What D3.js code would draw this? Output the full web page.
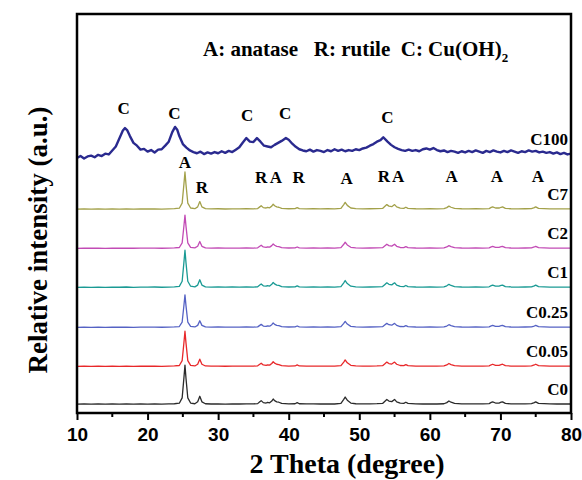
<!DOCTYPE html>
<html>
<head>
<meta charset="utf-8">
<script src="https://cdnjs.cloudflare.com/ajax/libs/d3/7.8.5/d3.min.js"></script>
<style>
  body { margin: 0; background: #fff; }
  svg { display: block; }
</style>
</head>
<body>
<div id="chart"></div>
<script>
// series names, bottom to top
let seriesNames = ["C0", "C0.05", "C0.25", "C1", "C2", "C7", "C100"];
let seriesColors = ["#2b2b2b", "#e8282a", "#5562c4", "#1a9a94", "#c24bb5", "#a3a14a", "#2a2a8f"];
// vertical offset of each trace (a.u.)
let seriesOffsets = [20, 115, 213, 313, 411, 509, 630];
// intensity scale of the TiO2 pattern for each doped sample
let seriesScales = [1.0, 0.9, 0.83, 0.95, 0.85, 0.95];

// TiO2 (anatase + rutile) pattern, [2theta, intensity]
let tio2Pattern = [
  [10, 2], [11, 2.6], [12, 2.2], [13, 2.8], [14, 2.1], [15, 2.7], [16, 2.3], [17, 2.9], [18, 2.2],
  [19, 2.8], [20, 2.4], [21, 2.9], [22, 2.3], [23, 2.8], [23.8, 3.2], [24.5, 4.5], [24.9, 18],
  [25.15, 68], [25.3, 100], [25.45, 66], [25.7, 18], [26.1, 5], [26.7, 3.2], [27.1, 8], [27.4, 22],
  [27.7, 8], [28.2, 3.2], [29, 2.6], [30, 3], [31, 2.4], [32, 2.9], [33, 2.5], [34, 3], [35, 2.8],
  [35.6, 3.5], [35.9, 8], [36.1, 11], [36.4, 6], [36.8, 5], [37.0, 6.5], [37.3, 5.5], [37.6, 10],
  [37.8, 15], [38.0, 11], [38.3, 8], [38.6, 7], [39.0, 4], [40, 3], [40.9, 3.2], [41.2, 6],
  [41.5, 3.2], [42.5, 2.7], [43.5, 3], [44.5, 2.6], [45.5, 3], [46.5, 2.6], [47.4, 4], [47.8, 14],
  [48.0, 20], [48.3, 12], [48.8, 5], [49.5, 3.2], [50.5, 2.7], [51.5, 3], [52.5, 3.3], [53.3, 4],
  [53.6, 9], [53.9, 14], [54.2, 10], [54.6, 8.5], [55.0, 14], [55.3, 8], [55.8, 4.5], [56.3, 4],
  [56.6, 7], [56.9, 4], [58, 3], [59, 2.6], [60, 3], [61, 2.6], [62, 3.2], [62.4, 6], [62.7, 10],
  [63.0, 7], [63.5, 4], [64.5, 3], [65.5, 2.7], [66.5, 3], [67.5, 2.8], [68.4, 3.5], [68.7, 6.5],
  [68.9, 8], [69.3, 5], [69.8, 5], [70.1, 7], [70.3, 8], [70.7, 4], [71.5, 3], [72.5, 2.7],
  [73.5, 3], [74.4, 3.5], [74.8, 6], [75.0, 8], [75.4, 4], [76.2, 3.5], [77, 2.8], [78, 2.5],
  [79, 2.8], [80, 2.5]
];

// Cu(OH)2 reference trace C100, [2theta, intensity]
let c100Pattern = [
  [10, 9], [10.5, 14], [11, 8], [11.5, 13], [12, 15], [12.5, 11], [13, 17], [13.5, 14], [14, 20],
  [14.5, 18], [15, 28], [15.5, 38], [16, 58], [16.5, 78], [16.8, 84], [17.1, 79], [17.5, 64],
  [18, 47], [18.5, 40], [19, 30], [19.5, 32], [20, 25], [20.5, 29], [21, 23], [21.5, 30], [22, 31],
  [22.5, 40], [23, 50], [23.5, 74], [23.9, 87], [24.2, 80], [24.5, 64], [25, 44], [25.5, 35],
  [26, 28], [26.5, 24], [27, 21], [27.5, 25], [28, 19], [28.5, 23], [29, 20], [29.5, 24], [30, 21],
  [30.5, 26], [31, 22], [31.5, 27], [32, 24], [32.5, 30], [33, 36], [33.5, 48], [34.0, 59],
  [34.5, 50], [35, 49], [35.5, 59], [36, 50], [36.5, 40], [37, 38], [37.5, 36], [38, 42], [38.5, 47],
  [39, 52], [39.6, 59], [40, 55], [40.5, 45], [41, 37], [41.5, 31], [42, 28], [42.5, 26], [43, 30],
  [43.5, 25], [44, 29], [44.5, 27], [45, 24], [45.5, 29], [46, 26], [46.5, 31], [47, 27], [47.5, 30],
  [48, 26], [48.5, 29], [49, 27], [49.5, 31], [50, 29], [50.5, 33], [51, 35], [51.5, 40], [52, 44],
  [52.5, 50], [53, 54], [53.4, 61], [54, 50], [54.5, 42], [55, 36], [55.5, 32], [56, 29], [56.5, 27],
  [57, 30], [57.5, 27], [58, 29], [58.5, 26], [59, 31], [59.5, 33], [60, 30], [60.5, 34], [61, 29],
  [61.5, 26], [62, 28], [62.5, 24], [63, 27], [63.5, 25], [64, 22], [64.5, 26], [65, 23], [65.5, 27],
  [66, 24], [66.5, 28], [67, 25], [67.5, 22], [68, 27], [68.5, 24], [69, 28], [69.5, 25], [70, 23],
  [70.5, 27], [71, 24], [71.5, 28], [72, 25], [72.5, 22], [73, 26], [73.5, 24], [74, 28], [74.5, 25],
  [75, 27], [75.5, 23], [76, 25], [76.5, 22], [77, 24], [77.5, 20], [78, 23], [78.5, 19], [79, 22],
  [79.5, 18], [80, 20]
];

// phase labels: letter, 2theta, height (a.u.)
let peakLetters = ["C", "C", "C", "C", "C", "A", "R", "R", "A", "R", "A", "R", "A", "A", "A", "A"];
let peakAngles = [16.6, 23.8, 34.1, 39.5, 54.0, 25.3, 27.7, 36.1, 38.2, 41.4, 48.2, 53.5, 55.5, 63.1, 69.5, 75.3];
let peakHeights = [749, 737, 732, 737, 727, 614, 551, 576, 576, 576, 574, 579, 579, 579, 579, 579];

let xTicks = [10, 20, 30, 40, 50, 60, 70, 80];
let xMinorTicks = [15, 25, 35, 45, 55, 65, 75];

let width = 582, height = 480;
let margin = {top: 14, right: 11, bottom: 67, left: 77};
let plotW = width - margin.left - margin.right;
let plotH = height - margin.top - margin.bottom;

let svg = d3.select("#chart")
    .append("svg")
    .attr("width", width)
    .attr("height", height);

let g = svg.append("g")
    .attr("transform", `translate(${margin.left}, ${margin.top})`);

let x = d3.scaleLinear().domain([10, 80]).range([0, plotW]);
let y = d3.scaleLinear().domain([0, 1000]).range([plotH, 0]);

let line = d3.line()
    .x(function(d) { return x(d[0]); })
    .y(function(d) { return y(d[1]); });

// build traces
let traces = seriesNames.map(function(name, i) {
  let pts;
  if (name === "C100") {
    pts = c100Pattern.map(function(p) { return [p[0], p[1] + seriesOffsets[i]]; });
  } else {
    pts = tio2Pattern.map(function(p) { return [p[0], p[1] * seriesScales[i] + seriesOffsets[i]]; });
  }
  return {name: name, color: seriesColors[i], points: pts};
});

g.selectAll("path.trace").data(traces)
    .enter()
    .append("path")
    .attr("class", "trace")
    .attr("fill", "none")
    .attr("stroke", function(d) { return d.color; })
    .attr("stroke-width", function(d) { return d.name === "C100" ? 2.4 : 1.3; })
    .attr("stroke-linejoin", "round")
    .attr("d", function(d) { return line(d.points); });

// series labels at right
g.selectAll("text.series").data(traces)
    .enter()
    .append("text")
    .attr("class", "series")
    .attr("x", plotW - 3)
    .attr("y", function(d) { return y(d.points[d.points.length - 1][1]) - 9; })
    .attr("text-anchor", "end")
    .style("font-family", "'Liberation Serif', 'Times New Roman', serif")
    .style("font-weight", 700)
    .style("font-size", "17px")
    .text(function(d) { return d.name; });

// peak letters
g.selectAll("text.peak").data(peakLetters)
    .enter()
    .append("text")
    .attr("class", "peak")
    .attr("x", function(d, i) { return x(peakAngles[i]); })
    .attr("y", function(d, i) { return y(peakHeights[i]); })
    .attr("text-anchor", "middle")
    .style("font-family", "'Liberation Serif', 'Times New Roman', serif")
    .style("font-weight", 700)
    .style("font-size", "17px")
    .text(function(d) { return d; });

// legend text
let legend = g.append("text")
    .attr("x", 126)
    .attr("y", 42)
    .style("font-family", "'Liberation Serif', 'Times New Roman', serif")
    .style("font-weight", 700)
    .style("font-size", "21px")
    .attr("xml:space", "preserve");
legend.append("tspan").text("A: anatase   R: rutile  C: Cu(OH)");
legend.append("tspan").attr("dy", 6).style("font-size", "13px").text("2");

// x axis
let xAxis = g.append("g")
    .attr("transform", `translate(0, ${plotH})`)
    .call(d3.axisBottom(x).tickValues(xTicks).tickSize(7).tickPadding(8).tickFormat(d3.format("d")));
xAxis.select(".domain").remove();
xAxis.selectAll("line").attr("stroke", "#000").attr("stroke-width", 2);
xAxis.selectAll("text")
    .style("font-family", "'Liberation Sans', Arial, sans-serif")
    .style("font-weight", 700)
    .style("font-size", "19px")
    .attr("fill", "#000");

g.append("g").selectAll("line").data(xMinorTicks)
    .enter()
    .append("line")
    .attr("x1", function(d) { return x(d); })
    .attr("x2", function(d) { return x(d); })
    .attr("y1", plotH)
    .attr("y2", plotH + 4)
    .attr("stroke", "#000")
    .attr("stroke-width", 2);

// frame
g.append("rect")
    .attr("x", 0)
    .attr("y", 0)
    .attr("width", plotW)
    .attr("height", plotH)
    .attr("fill", "none")
    .attr("stroke", "#000")
    .attr("stroke-width", 2.5);

// axis titles
svg.append("text")
    .attr("x", margin.left + plotW / 2 + 23)
    .attr("y", 473)
    .attr("text-anchor", "middle")
    .style("font-family", "'Liberation Serif', 'Times New Roman', serif")
    .style("font-weight", 700)
    .style("font-size", "28px")
    .text("2 Theta (degree)");

svg.append("text")
    .attr("transform", `translate(47, 240) rotate(-90)`)
    .attr("text-anchor", "middle")
    .style("font-family", "'Liberation Serif', 'Times New Roman', serif")
    .style("font-weight", 700)
    .style("font-size", "27px")
    .text("Relative intensity (a.u.)");
</script>
</body>
</html>
